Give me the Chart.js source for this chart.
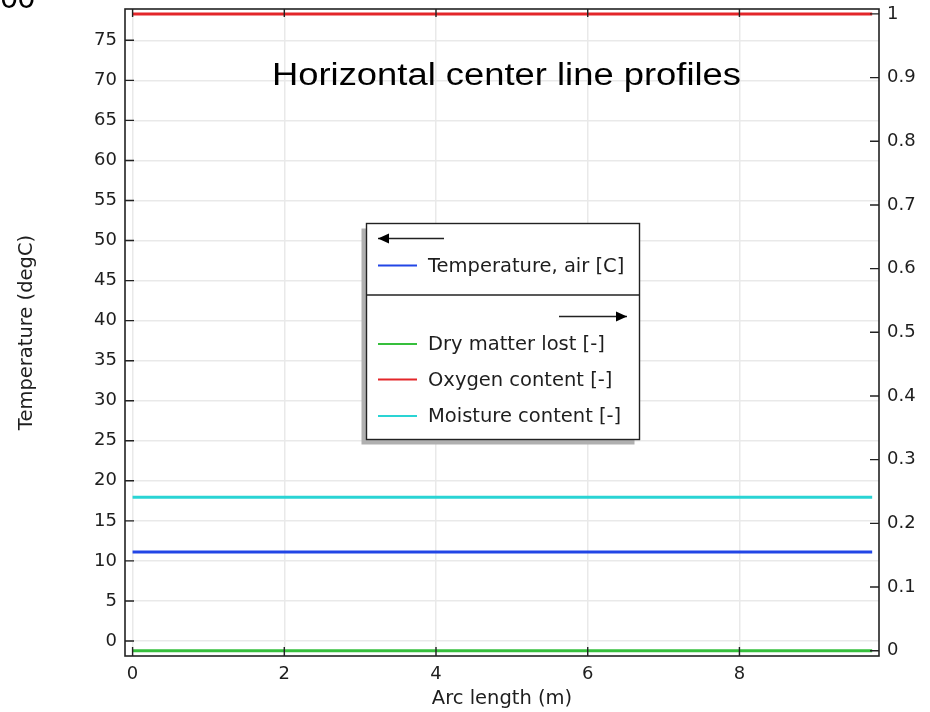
<!DOCTYPE html>
<html><head><meta charset="utf-8">
<script src="https://cdn.jsdelivr.net/npm/chart.js@4/dist/chart.umd.min.js"></script>
<style>html,body{margin:0;padding:0;background:#fff;} #wrap{width:930px;height:712px;}</style>
</head><body><div id="wrap"><canvas id="c" width="930" height="712"></canvas></div>
<script>
// ---- data ----
const arcLength = [0, 9.75];                 // Arc length (m)
const temperatureAir = [11.1, 11.1];         // left axis, degC
const dryMatterLost = [0, 0];                // right axis
const oxygenContent = [1, 1];                // right axis
const moistureContent = [0.241, 0.241];      // right axis
const seriesLabels = ['Temperature, air [C]', 'Dry matter lost [-]', 'Oxygen content [-]', 'Moisture content [-]'];
const seriesColors = ['#2246e6', '#36bf3c', '#e3262a', '#2ad4d4'];
const titleText = 'Horizontal center line profiles';
const cornerText = '00';
const xTitle = 'Arc length (m)';
const yTitle = 'Temperature (degC)';

const pts = (ys) => arcLength.map((x, i) => ({x: x, y: ys[i]}));
const FONT = "'DejaVu Sans', sans-serif";
const TXT = '#1e1e1e';

const overlay = {
  id: 'overlay',
  afterDraw(chart) {
    const ctx = chart.ctx;
    const a = chart.chartArea;
    const sx = chart.scales.x, sy = chart.scales.y, sy1 = chart.scales.y1;
    ctx.save();
    // frame
    ctx.strokeStyle = '#222';
    ctx.lineWidth = 1.6;
    ctx.strokeRect(a.left, a.top, a.right - a.left, a.bottom - a.top);
    // inward ticks
    ctx.lineWidth = 1.4;
    ctx.beginPath();
    sx.ticks.forEach(t => {
      const px = sx.getPixelForValue(t.value);
      ctx.moveTo(px, a.bottom); ctx.lineTo(px, a.bottom - 9);
      ctx.moveTo(px, a.top); ctx.lineTo(px, a.top + 8);
    });
    sy.ticks.forEach(t => {
      const py = sy.getPixelForValue(t.value);
      ctx.moveTo(a.left, py); ctx.lineTo(a.left + 9, py);
    });
    sy1.ticks.forEach(t => {
      const py = sy1.getPixelForValue(t.value);
      ctx.moveTo(a.right, py); ctx.lineTo(a.right - 9, py);
    });
    ctx.stroke();

    // title inside plot
    ctx.fillStyle = '#000';
    ctx.font = "31px 'Liberation Sans', Arial, sans-serif";
    ctx.textBaseline = 'alphabetic';
    ctx.textAlign = 'left';
    const tw = ctx.measureText(titleText).width;
    const targetW = 469;
    ctx.save();
    ctx.translate(272, 85);
    ctx.scale(targetW / tw, 1);
    ctx.fillText(titleText, 0, 0);
    ctx.restore();
    // cut-off corner text
    ctx.save();
    ctx.font = "31px 'Liberation Sans', Arial, sans-serif";
    ctx.textAlign = 'right';
    ctx.fillText(cornerText, 35, 8);
    ctx.restore();

    // legend box
    const L = 366.5, T = 223.5, R = 639.5, B = 439.5;
    ctx.fillStyle = '#b0b0b0';
    ctx.fillRect(L - 5, T + 5, R - L, B - T);
    ctx.fillStyle = '#fff';
    ctx.fillRect(L, T, R - L, B - T);
    ctx.strokeStyle = '#222';
    ctx.lineWidth = 1.4;
    ctx.strokeRect(L, T, R - L, B - T);
    ctx.beginPath(); ctx.moveTo(L, 295); ctx.lineTo(R, 295); ctx.stroke();
    // arrows
    const arrow = (x1, x2, y, dir) => {
      ctx.beginPath(); ctx.moveTo(x1, y); ctx.lineTo(x2, y); ctx.lineWidth = 1.4; ctx.stroke();
      const tip = dir < 0 ? x1 : x2;
      ctx.beginPath();
      ctx.moveTo(tip, y);
      ctx.lineTo(tip - dir * 11, y - 5);
      ctx.lineTo(tip - dir * 11, y + 5);
      ctx.closePath(); ctx.fillStyle = '#000'; ctx.fill();
    };
    arrow(378, 444, 238.5, -1);
    arrow(559, 627, 316.5, 1);
    // entries
    const ds = chart.data.datasets;
    const rows = [265.5, 344, 379.5, 416];
    ctx.font = '19.5px ' + FONT;
    ctx.textAlign = 'left';
    ctx.textBaseline = 'middle';
    ds.forEach((d, i) => {
      ctx.strokeStyle = d.borderColor; ctx.lineWidth = 2;
      ctx.beginPath(); ctx.moveTo(378, rows[i]); ctx.lineTo(417, rows[i]); ctx.stroke();
      ctx.fillStyle = TXT;
      ctx.fillText(d.label, 428, rows[i] + 1);
    });
    ctx.restore();
  }
};

const tickFont = {family: FONT, size: 18};
const titleFont = {family: FONT, size: 19.5};

new Chart(document.getElementById('c'), {
  type: 'line',
  data: {
    datasets: [
      {label: seriesLabels[0], data: pts(temperatureAir), yAxisID: 'y', borderColor: seriesColors[0]},
      {label: seriesLabels[1], data: pts(dryMatterLost), yAxisID: 'y1', borderColor: seriesColors[1]},
      {label: seriesLabels[2], data: pts(oxygenContent), yAxisID: 'y1', borderColor: seriesColors[2]},
      {label: seriesLabels[3], data: pts(moistureContent), yAxisID: 'y1', borderColor: seriesColors[3]}
    ].map(d => Object.assign(d, {borderWidth: 3, pointRadius: 0, tension: 0, fill: false}))
  },
  options: {
    responsive: false,
    animation: false,
    devicePixelRatio: 1,
    layout: {padding: {top: 9, left: 0, right: 0, bottom: 0}},
    plugins: {legend: {display: false}, tooltip: {enabled: false}, title: {display: false}},
    scales: {
      x: {
        type: 'linear', min: -0.1, max: 9.84,
        afterFit: s => { s.height = 56; s.paddingLeft = 0; s.paddingRight = 0; },
        ticks: {stepSize: 2, includeBounds: false, padding: 8, color: TXT, font: tickFont},
        grid: {color: '#e9e9e9', lineWidth: 1.5, drawTicks: false},
        border: {display: false},
        title: {display: true, text: xTitle, color: TXT, font: titleFont, padding: {top: 0, bottom: 1}}
      },
      y: {
        type: 'linear', position: 'left', min: -1.873, max: 78.91,
        afterFit: s => { s.width = 125; s.paddingTop = 0; s.paddingBottom = 0; },
        ticks: {stepSize: 5, includeBounds: false, padding: 8, color: TXT, font: tickFont},
        grid: {color: '#e9e9e9', lineWidth: 1.5, drawTicks: false},
        border: {display: false},
        title: {display: true, text: yTitle, color: TXT, font: titleFont, padding: {top: 15, bottom: 0}}
      },
      y1: {
        type: 'linear', position: 'right', min: -0.0083, max: 1.0077,
        afterFit: s => { s.width = 51; s.paddingTop = 0; s.paddingBottom = 0; },
        ticks: {stepSize: 0.1, includeBounds: false, padding: 8, color: TXT, font: tickFont,
                callback: v => String(Math.round(v * 10) / 10)},
        grid: {display: false, drawTicks: false},
        border: {display: false}
      }
    }
  },
  plugins: [overlay]
});
</script></body></html>
